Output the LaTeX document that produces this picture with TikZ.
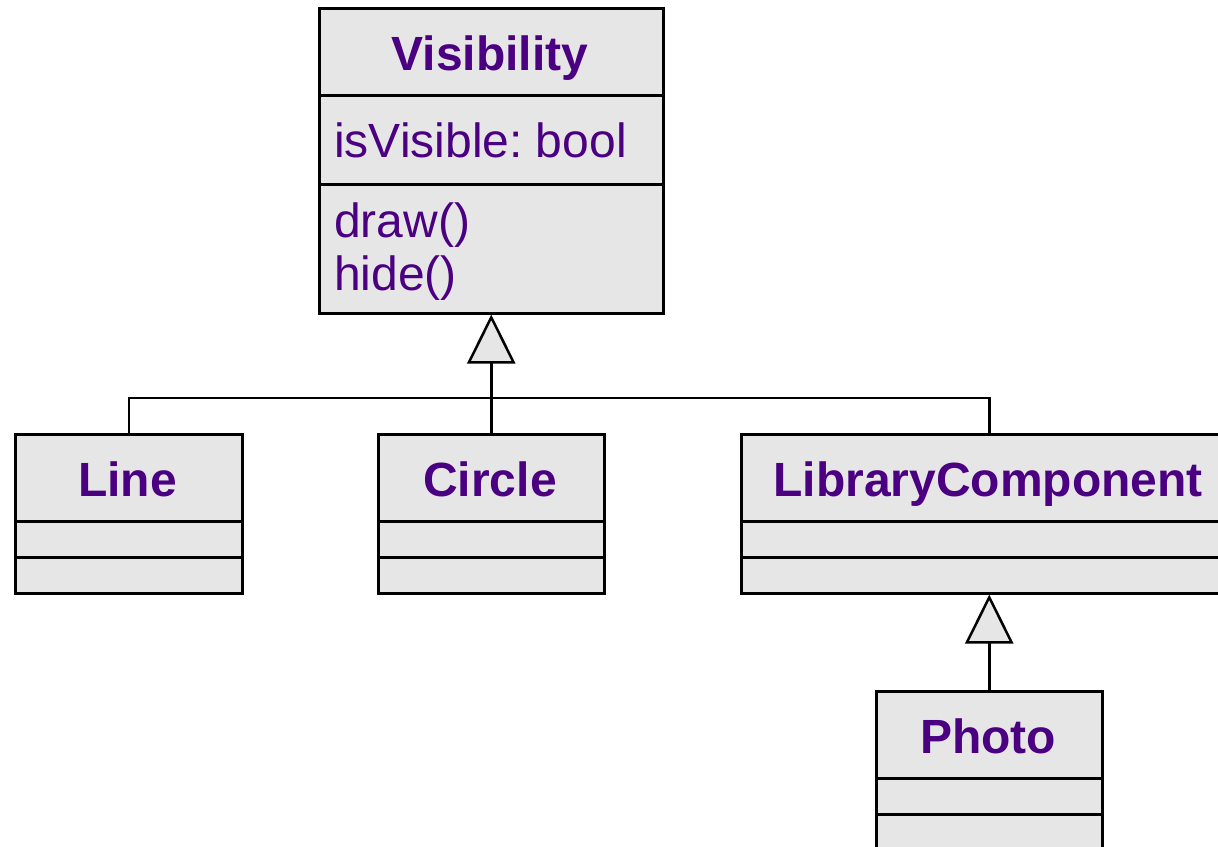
\documentclass[tikz,border=0pt]{standalone}
\usepackage{fontspec}
\setmainfont{Liberation Sans}
\usetikzlibrary{arrows.meta}
\definecolor{boxgray}{HTML}{E6E6E6}
\definecolor{txt}{HTML}{4B0082}
\frenchspacing
\tikzset{
 sec/.style={draw=black, fill=boxgray, line width=2.5pt, rectangle, inner sep=0pt, anchor=north west},
 cls/.style={text=txt, font=\fontsize{48}{56}\selectfont\bfseries, anchor=base, inner sep=0pt},
 member/.style={text=txt, font=\fontsize{48}{56}\selectfont, anchor=base west, inner sep=0pt},
 inherit/.style={line width=2.5pt, -{Triangle[length=49pt,width=48pt,fill=boxgray]}},
 link/.style={line width=2.5pt}
}
\begin{document}
\begin{tikzpicture}[x=1pt,y=-1pt]
\useasboundingbox (0,0) rectangle (1218,846);
% Visibility
\node[sec, minimum width=344pt, minimum height=87pt] (visT) at (318,7) {};
\node[sec, minimum width=344pt, minimum height=89pt] (visA) at (318,94) {};
\node[sec, minimum width=344pt, minimum height=129pt] (visM) at (318,183) {};
\node[cls] (visN) at (490,70) {Visibility};
\node[member] (visa1) at (334,157) {isVisible: bool};
\node[member] (vism1) at (334,237) {draw()};
\node[member] (vism2) at (334,290) {hide()};
% Line
\node[sec, minimum width=227pt, minimum height=87pt] (lineT) at (14,433) {};
\node[sec, minimum width=227pt, minimum height=36pt] (lineA) at (14,520) {};
\node[sec, minimum width=227pt, minimum height=36pt] (lineM) at (14,556) {};
\node[cls] (lineN) at (127.5,496) {Line};
% Circle
\node[sec, minimum width=226pt, minimum height=87pt] (circT) at (377,433) {};
\node[sec, minimum width=226pt, minimum height=36pt] (circA) at (377,520) {};
\node[sec, minimum width=226pt, minimum height=36pt] (circM) at (377,556) {};
\node[cls] (circN) at (490,496) {Circle};
% LibraryComponent
\node[sec, minimum width=496pt, minimum height=87pt] (libT) at (740,433) {};
\node[sec, minimum width=496pt, minimum height=36pt] (libA) at (740,520) {};
\node[sec, minimum width=496pt, minimum height=36pt] (libM) at (740,556) {};
\node[cls] (libN) at (988,496) {LibraryComponent};
% Photo
\node[sec, minimum width=226pt, minimum height=87pt] (phoT) at (875,690) {};
\node[sec, minimum width=226pt, minimum height=36pt] (phoA) at (875,777) {};
\node[sec, minimum width=226pt, minimum height=36pt] (phoM) at (875,813) {};
\node[cls] (phoN) at (988,753) {Photo};
% connectors
\coordinate (j) at (490,398);
\draw[link] (lineT.north) |- (j);
\draw[link] (libT.north) |- (j);
\draw[inherit] (circT.north) -- (visM.south);
\draw[inherit] (phoT.north) -- (libM.south);
\end{tikzpicture}
\end{document}
